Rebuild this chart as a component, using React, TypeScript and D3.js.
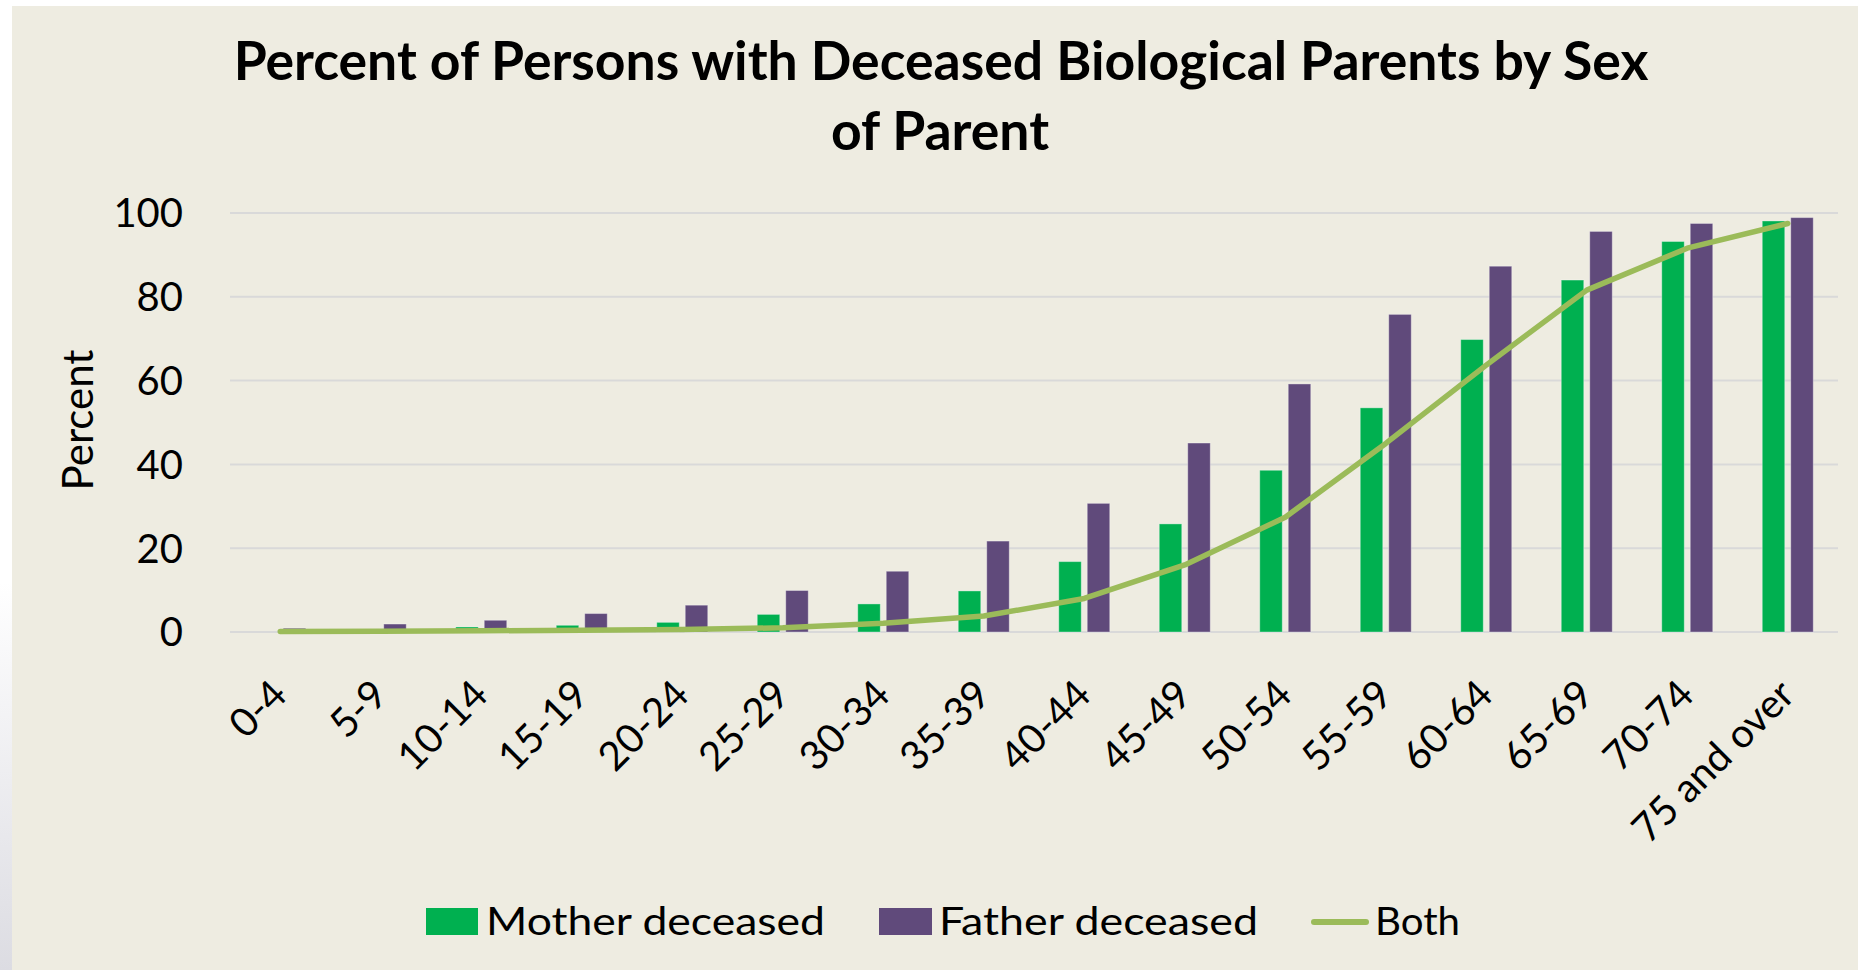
import React from 'react';
import * as d3 from 'd3';

// Percent of persons with deceased biological parents, by age group and sex of parent.
const ageGroups = [
  '0-4', '5-9', '10-14', '15-19', '20-24', '25-29', '30-34', '35-39',
  '40-44', '45-49', '50-54', '55-59', '60-64', '65-69', '70-74', '75 and over',
];
const motherDeceased = [0, 0.2, 1.2, 1.6, 2.3, 4.2, 6.7, 9.8, 16.8, 25.8, 38.6, 53.5, 69.8, 84.0, 93.2, 98.1];
const fatherDeceased = [0.9, 1.9, 2.8, 4.4, 6.4, 9.9, 14.5, 21.7, 30.7, 45.1, 59.2, 75.8, 87.3, 95.6, 97.5, 98.9];
const bothDeceased = [0.1, 0.2, 0.3, 0.4, 0.6, 1.0, 2.1, 3.8, 8.0, 16.0, 27.4, 45.0, 63.7, 81.6, 91.6, 97.5];
const yTicks = [0, 20, 40, 60, 80, 100];

const WIDTH = 1858;
const HEIGHT = 970;
const PLOT_LEFT = 230;
const PLOT_RIGHT = 1838;
const PLOT_TOP = 213;
const PLOT_BOTTOM = 632;
const GROUP_W = 51;

const BG = '#EEECE1';
const MOTHER = '#00B050';
const FATHER = '#604A7B';
const BOTH = '#9BBB59';
const FONT = 'Lato, "Open Sans", sans-serif';

export default function App() {
  const x = d3.scaleBand<string>().domain(ageGroups).range([PLOT_LEFT, PLOT_RIGHT]).padding(0);
  const bw = x.bandwidth();
  const xInner = d3
    .scaleBand<string>()
    .domain(['mother', 'father'])
    .range([(bw - GROUP_W) / 2, (bw + GROUP_W) / 2])
    .paddingInner(0.21);
  const y = d3.scaleLinear().domain([0, 100]).range([PLOT_BOTTOM, PLOT_TOP]);

  const line = d3
    .line<number>()
    .x((_d, i) => (x(ageGroups[i]) ?? 0) + bw / 2)
    .y((d) => y(d));

  const series = [
    { key: 'mother', values: motherDeceased, color: MOTHER },
    { key: 'father', values: fatherDeceased, color: FATHER },
  ];

  return (
    <svg
      width={WIDTH}
      height={HEIGHT}
      style={{ position: 'absolute', left: 0, top: 0, display: 'block' }}
      fontFamily={FONT}
    >
      <defs>
        <linearGradient id="edge" x1="0" y1="0" x2="0" y2="1">
          <stop offset="0.6" stopColor="#ffffff" />
          <stop offset="1" stopColor="#DCDCE2" />
        </linearGradient>
      </defs>
      <rect width={WIDTH} height={HEIGHT} fill="#ffffff" />
      <rect x={0} y={0} width={12} height={HEIGHT} fill="url(#edge)" />
      <rect x={12} y={6} width={WIDTH - 12} height={HEIGHT - 6} fill={BG} />

      {/* title */}
      <text x={941} y={80} textAnchor="middle" fontSize={53.5} fontWeight={700} fill="#000">
        Percent of Persons with Deceased Biological Parents by Sex
      </text>
      <text x={940} y={150} textAnchor="middle" fontSize={53.5} fontWeight={700} fill="#000">
        of Parent
      </text>

      {/* gridlines */}
      {yTicks.map((t) => (
        <line key={t} x1={PLOT_LEFT} x2={PLOT_RIGHT} y1={y(t)} y2={y(t)} stroke="#D9D9D9" strokeWidth={2} />
      ))}

      {/* y tick labels */}
      {yTicks.map((t) => (
        <text key={t} x={183} y={y(t)} dy="0.36em" textAnchor="end" fontSize={40} fill="#000">
          {t}
        </text>
      ))}
      <text transform={`translate(93,420) rotate(-90)`} textAnchor="middle" fontSize={42} fill="#000">
        Percent
      </text>

      {/* bars */}
      {series.map((s) => (
        <g key={s.key}>
          {s.values.map((v, i) =>
            v > 0 ? (
              <rect
                key={ageGroups[i]}
                x={(x(ageGroups[i]) ?? 0) + (xInner(s.key) ?? 0)}
                y={y(v)}
                width={xInner.bandwidth()}
                height={PLOT_BOTTOM - y(v)}
                fill={s.color}
                stroke="rgba(255,255,255,0.35)"
                strokeWidth={1}
              />
            ) : null,
          )}
        </g>
      ))}

      {/* both-parents line */}
      <path
        d={line(bothDeceased) ?? ''}
        fill="none"
        stroke={BOTH}
        strokeWidth={5.5}
        strokeLinecap="round"
        strokeLinejoin="round"
      />

      {/* x labels */}
      {ageGroups.map((g) => (
        <text
          key={g}
          transform={`translate(${(x(g) ?? 0) + bw / 2 + 9},697) rotate(-45)`}
          textAnchor="end"
          fontSize={40}
          fill="#000"
        >
          {g}
        </text>
      ))}

      {/* legend */}
      <rect x={426} y={908} width={52} height={27} fill={MOTHER} />
      <text x={486} y={935} fontSize={39} fill="#000" textLength={339} lengthAdjust="spacingAndGlyphs">
        Mother deceased
      </text>
      <rect x={879} y={908} width={53} height={27} fill={FATHER} />
      <text x={939} y={935} fontSize={39} fill="#000" textLength={319} lengthAdjust="spacingAndGlyphs">
        Father deceased
      </text>
      <line x1={1314} x2={1366} y1={922} y2={922} stroke={BOTH} strokeWidth={6} strokeLinecap="round" />
      <text x={1375} y={935} fontSize={39} fill="#000" textLength={85} lengthAdjust="spacingAndGlyphs">
        Both
      </text>
    </svg>
  );
}
